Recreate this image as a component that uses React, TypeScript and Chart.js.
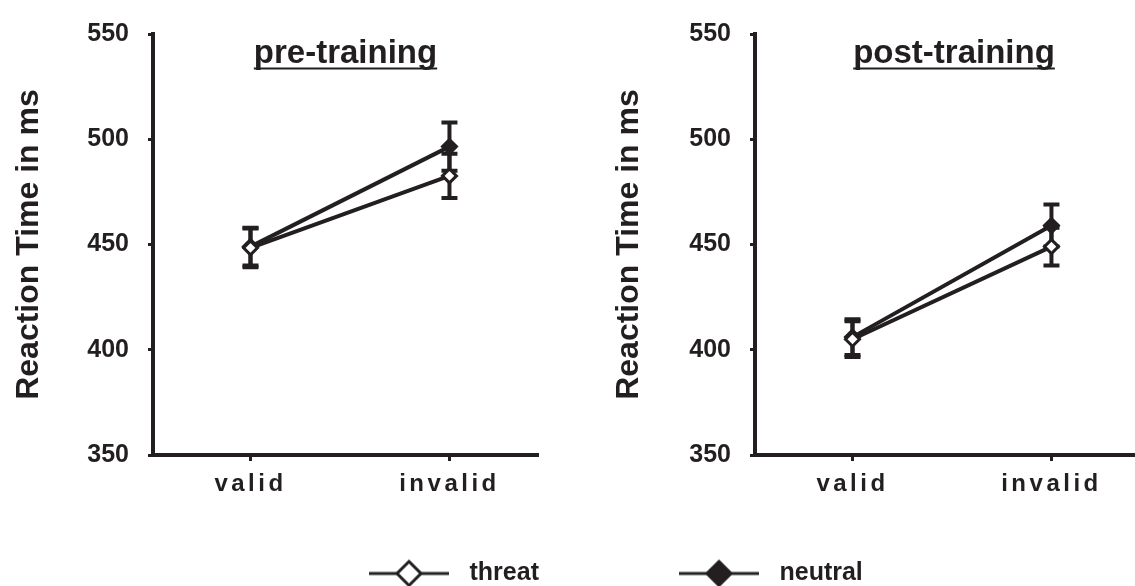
import React, { useEffect, useRef } from 'react';
import { Chart, registerables } from 'chart.js';

Chart.register(...registerables);

// ---- data ----
const categories = ['valid', 'invalid'];
const seriesNames = ['threat', 'neutral'];
const yTicks = [350, 400, 450, 500, 550];
const panelTitles = ['pre-training', 'post-training'];
const yAxisTitle = 'Reaction Time in ms';

const preThreat = [448.4, 482.6];
const preThreatErr = [9.2, 10.5];
const preNeutral = [449, 496.5];
const preNeutralErr = [9, 11.5];

const postThreat = [405, 449];
const postThreatErr = [8.5, 9];
const postNeutral = [406, 459];
const postNeutralErr = [8.5, 10];

// ---- styles ----
const INK = '#231f20';
const FONT = '"Liberation Sans", Arial, Helvetica, sans-serif';
Chart.defaults.font.family = FONT;

const errorBars = {
  id: 'errorBars',
  beforeDatasetsDraw(chart: any) {
    const ctx = chart.ctx;
    const ys = chart.scales.y;
    ctx.save();
    ctx.strokeStyle = INK;
    ctx.lineWidth = 4;
    chart.data.datasets.forEach((ds: any, di: number) => {
      const meta = chart.getDatasetMeta(di);
      meta.data.forEach((pt: any, i: number) => {
        const v = ds.data[i].y;
        const e = ds.err[i];
        const top = ys.getPixelForValue(v + e);
        const bot = ys.getPixelForValue(v - e);
        const x = pt.x;
        ctx.beginPath();
        ctx.moveTo(x, top);
        ctx.lineTo(x, bot);
        ctx.moveTo(x - 8, top);
        ctx.lineTo(x + 8, top);
        ctx.moveTo(x - 8, bot);
        ctx.lineTo(x + 8, bot);
        ctx.stroke();
      });
    });
    ctx.restore();
  },
};

const panelTitle = {
  id: 'panelTitle',
  afterDraw(chart: any, _args: any, opts: any) {
    const { ctx, chartArea } = chart;
    const x = (chartArea.left + chartArea.right) / 2 + (opts.shift || 0);
    const y = chartArea.top + 29;
    ctx.save();
    ctx.font = `bold 33px ${FONT}`;
    ctx.fillStyle = INK;
    ctx.textAlign = 'center';
    ctx.textBaseline = 'alphabetic';
    ctx.fillText(opts.text, x, y);
    const w = ctx.measureText(opts.text).width;
    ctx.fillRect(x - w / 2, y + 4.5, w, 2);
    ctx.restore();
  },
};

const xLetterSpacing = {
  id: 'xLetterSpacing',
  beforeDraw(chart: any) {
    const sc: any = chart.scales.x;
    if (sc && !sc.__wrapped) {
      const orig = sc.drawLabels.bind(sc);
      sc.drawLabels = (area: any) => {
        const ctx: any = chart.ctx;
        ctx.save();
        ctx.letterSpacing = '3.5px';
        orig(area);
        ctx.restore();
      };
      sc.__wrapped = true;
    }
  },
};

function makeConfig(
  title: string,
  threat: number[],
  threatErr: number[],
  neutral: number[],
  neutralErr: number[],
  yWidth: number,
  padRight: number,
  titleShift: number
): any {
  const series = [
    { name: seriesNames[0], vals: threat, err: threatErr, fill: '#ffffff' },
    { name: seriesNames[1], vals: neutral, err: neutralErr, fill: INK },
  ];
  return {
    type: 'line',
    data: {
      datasets: series.map((s) => ({
        label: s.name,
        data: s.vals.map((v, i) => ({ x: i + 1, y: v })),
        err: s.err,
        borderColor: INK,
        borderWidth: 4,
        pointStyle: 'rectRot',
        pointRadius: 7,
        pointBorderWidth: 3,
        pointBackgroundColor: s.fill,
        pointBorderColor: INK,
        tension: 0,
        fill: false,
      })),
    },
    options: {
      responsive: false,
      animation: false,
      events: [],
      layout: { padding: { top: 24, right: padRight, left: 0, bottom: 0 } },
      scales: {
        x: {
          type: 'linear',
          min: 0.51,
          max: 2.445,
          afterBuildTicks: (s: any) => {
            s.ticks = categories.map((_, i) => ({ value: i + 1 }));
          },
          ticks: {
            callback: (_v: any, idx: number) => categories[idx],
            color: INK,
            font: { size: 24, weight: 'bold', family: FONT },
            padding: 9,
            maxRotation: 0,
            autoSkip: false,
          },
          grid: { drawOnChartArea: false, drawTicks: true, tickLength: 6, tickWidth: 3, tickColor: INK, color: INK },
          border: { display: true, color: INK, width: 4 },
          afterFit: (s: any) => {
            s.height = 65;
          },
        },
        y: {
          min: 350,
          max: 550,
          afterBuildTicks: (s: any) => {
            s.ticks = yTicks.map((v) => ({ value: v }));
          },
          ticks: {
            color: INK,
            font: { size: 25, weight: 'bold', family: FONT },
            padding: 19,
          },
          grid: { drawOnChartArea: false, drawTicks: true, tickLength: 5, tickWidth: 3, tickColor: INK, color: INK },
          border: { display: true, color: INK, width: 4 },
          title: {
            display: true,
            text: yAxisTitle,
            color: INK,
            font: { size: 32, weight: 'bold', family: FONT },
            padding: { top: 10, bottom: 0 },
          },
          afterFit: (s: any) => {
            s.width = yWidth;
          },
        },
      },
      plugins: {
        legend: { display: false },
        tooltip: { enabled: false },
        panelTitle: { text: title, shift: titleShift },
      },
    },
    plugins: [errorBars, panelTitle, xLetterSpacing],
  };
}

function makeMarker(filled: boolean): HTMLCanvasElement {
  const c = document.createElement('canvas');
  c.width = 88;
  c.height = 32;
  const ctx = c.getContext('2d')!;
  ctx.strokeStyle = INK;
  ctx.lineWidth = 3;
  ctx.beginPath();
  ctx.moveTo(0, 16);
  ctx.lineTo(80, 16);
  ctx.stroke();
  ctx.beginPath();
  ctx.moveTo(40, 4);
  ctx.lineTo(52, 16);
  ctx.lineTo(40, 28);
  ctx.lineTo(28, 16);
  ctx.closePath();
  ctx.fillStyle = filled ? INK : '#ffffff';
  ctx.fill();
  ctx.stroke();
  return c;
}

export default function App() {
  const leftRef = useRef<HTMLCanvasElement>(null);
  const rightRef = useRef<HTMLCanvasElement>(null);
  const legendRef = useRef<HTMLCanvasElement>(null);

  useEffect(() => {
    const c1 = new Chart(
      leftRef.current!,
      makeConfig(panelTitles[0], preThreat, preThreatErr, preNeutral, preNeutralErr, 153, 22, 0)
    );
    const c2 = new Chart(
      rightRef.current!,
      makeConfig(panelTitles[1], postThreat, postThreatErr, postNeutral, postNeutralErr, 155, 8.5, 6.5)
    );
    const markers = [makeMarker(false), makeMarker(true)];
    const c3 = new Chart(legendRef.current!, {
      type: 'line',
      data: { datasets: seriesNames.map((n) => ({ label: n, data: [] })) },
      options: {
        responsive: false,
        animation: false,
        events: [],
        layout: { padding: 0 },
        scales: { x: { display: false }, y: { display: false } },
        plugins: {
          tooltip: { enabled: false },
          legend: {
            display: true,
            position: 'top',
            align: 'start',
            labels: {
              usePointStyle: true,
              pointStyleWidth: 88,
              padding: 140,
              color: INK,
              font: { size: 25, weight: 'bold', family: FONT },
              generateLabels: (chart: any) =>
                chart.data.datasets.map((ds: any, i: number) => ({
                  text: ds.label,
                  pointStyle: markers[i],
                  fillStyle: INK,
                  strokeStyle: INK,
                  lineWidth: 0,
                  hidden: false,
                  datasetIndex: i,
                  fontColor: INK,
                })),
            },
          },
        },
      },
    } as any);
    return () => {
      c1.destroy();
      c2.destroy();
      c3.destroy();
    };
  }, []);

  return (
    <div
      style={{
        position: 'absolute',
        left: 0,
        top: 0,
        width: 1135,
        height: 586,
        overflow: 'hidden',
        background: '#ffffff',
      }}
    >
      <canvas
        ref={leftRef}
        width={560}
        height={520}
        style={{ position: 'absolute', left: 0, top: 0, width: 560, height: 520 }}
      />
      <canvas
        ref={rightRef}
        width={550}
        height={520}
        style={{ position: 'absolute', left: 600, top: 0, width: 550, height: 520 }}
      />
      <canvas
        ref={legendRef}
        width={900}
        height={400}
        style={{ position: 'absolute', left: 229, top: 421, width: 900, height: 400 }}
      />
    </div>
  );
}
